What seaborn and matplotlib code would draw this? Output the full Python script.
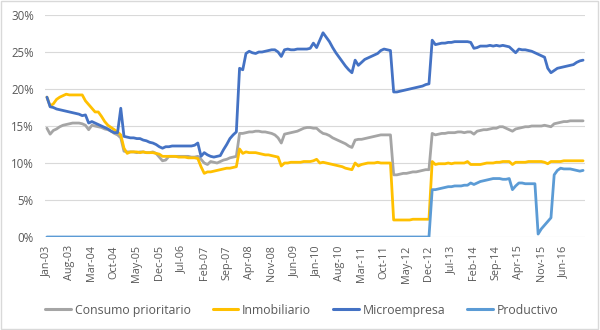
import matplotlib
matplotlib.use("Agg")
import matplotlib.pyplot as plt
import numpy as np
import pandas as pd
import seaborn as sns
from matplotlib.patches import Rectangle

# Data (monthly, Jan-03 .. Dec-16), values in %
consumo = [
    14.7, 13.9, 14.4, 14.6, 14.9, 15.1, 15.2, 15.3, 15.4, 15.4, 15.4, 15.3,
    15.1, 14.5, 15.1, 15.0, 14.9, 14.8, 14.6, 14.5, 14.3, 14.0, 13.8, 13.4,
    11.6, 11.5, 11.5, 11.5, 11.4, 11.5, 11.5, 11.4, 11.4, 11.5, 11.3, 10.8,
    10.3, 10.4, 10.9, 10.9, 10.9, 10.9, 10.9, 10.9, 10.9, 10.8, 10.8, 10.9,
    10.5, 10.0, 9.8, 10.2, 10.1, 10.0, 10.2, 10.4, 10.5, 10.7, 10.8, 10.9,
    14.0, 14.0, 14.1, 14.2, 14.2, 14.3, 14.3, 14.2, 14.2, 14.1, 14.0, 13.8,
    13.4, 12.7, 13.9, 14.0, 14.1, 14.2, 14.3, 14.5, 14.7, 14.8, 14.8, 14.7,
    14.7, 14.3, 14.0, 13.9, 13.7, 13.4, 13.2, 13.0, 12.8, 12.6, 12.3, 12.1,
    13.1, 13.2, 13.2, 13.3, 13.4, 13.5, 13.6, 13.7, 13.8, 13.8, 13.8, 13.8,
    8.4, 8.4, 8.5, 8.6, 8.6, 8.7, 8.8, 8.8, 8.9, 9.0, 9.1, 9.1,
    14.0, 13.8, 13.9, 14.0, 14.0, 14.1, 14.1, 14.1, 14.2, 14.2, 14.1, 14.2,
    14.2, 13.9, 14.3, 14.4, 14.5, 14.5, 14.6, 14.7, 14.7, 14.9, 14.9, 14.7,
    14.5, 14.3, 14.6, 14.7, 14.8, 14.9, 14.9, 15.0, 15.0, 15.0, 15.0, 15.1,
    15.0, 14.9, 15.3, 15.4, 15.5, 15.6, 15.6, 15.7, 15.7, 15.7, 15.7, 15.7,
]
inmobiliario = [
    18.9, 17.7, 18.0, 18.6, 18.9, 19.1, 19.3, 19.2, 19.2, 19.2, 19.2, 19.2,
    18.4, 17.9, 17.4, 16.9, 16.9, 16.3, 15.6, 15.1, 14.8, 14.5, 14.2, 13.8,
    12.0, 11.3, 11.5, 11.5, 11.5, 11.4, 11.5, 11.4, 11.4, 11.4, 11.3, 11.2,
    10.9, 10.9, 10.9, 10.9, 10.9, 10.8, 10.8, 10.8, 10.7, 10.7, 10.7, 10.6,
    9.5, 8.6, 8.8, 8.8, 8.9, 9.0, 9.1, 9.2, 9.3, 9.3, 9.4, 9.5,
    11.9, 11.3, 11.5, 11.4, 11.4, 11.4, 11.3, 11.2, 11.1, 11.1, 11.0, 10.9,
    10.8, 9.6, 10.0, 10.0, 10.1, 10.1, 10.1, 10.1, 10.2, 10.2, 10.2, 10.3,
    10.5, 10.0, 10.1, 10.0, 9.9, 9.8, 9.7, 9.6, 9.5, 9.3, 9.2, 9.1,
    10.0, 9.6, 9.8, 9.9, 10.0, 10.0, 10.0, 10.1, 10.0, 10.0, 10.0, 10.0,
    2.3, 2.3, 2.3, 2.3, 2.3, 2.3, 2.4, 2.4, 2.4, 2.4, 2.4, 2.4,
    10.2, 9.8, 9.9, 9.9, 9.9, 10.0, 9.9, 10.0, 10.0, 10.0, 10.0, 10.2,
    9.8, 9.8, 9.8, 9.8, 9.9, 10.0, 10.0, 10.0, 10.1, 10.1, 10.2, 10.2,
    10.2, 9.8, 10.1, 10.1, 10.1, 10.1, 10.2, 10.2, 10.2, 10.2, 10.2, 10.1,
    9.9, 10.2, 10.2, 10.2, 10.2, 10.3, 10.3, 10.3, 10.3, 10.3, 10.3, 10.3,
]
microempresa = [
    18.9, 17.6, 17.5, 17.3, 17.2, 17.1, 17.0, 16.9, 16.8, 16.7, 16.6, 16.4,
    16.5, 15.4, 15.6, 15.4, 15.2, 15.0, 14.8, 14.6, 14.3, 14.1, 14.1, 17.4,
    13.6, 13.5, 13.4, 13.4, 13.3, 13.3, 13.1, 13.0, 12.8, 12.7, 12.5, 12.2,
    12.0, 12.2, 12.2, 12.3, 12.3, 12.3, 12.3, 12.3, 12.3, 12.3, 12.4, 12.7,
    10.9, 11.4, 11.1, 10.9, 10.8, 10.9, 11.0, 11.8, 12.5, 13.3, 13.8, 14.2,
    22.8, 22.6, 24.8, 25.1, 24.9, 24.8, 25.0, 25.0, 25.1, 25.2, 25.3, 25.3,
    25.0, 24.4, 25.3, 25.4, 25.3, 25.3, 25.4, 25.4, 25.4, 25.4, 25.5, 26.2,
    25.6, 26.6, 27.6, 27.0, 26.4, 25.6, 24.9, 24.3, 23.7, 23.1, 22.6, 22.2,
    23.9, 23.2, 23.6, 24.0, 24.2, 24.4, 24.6, 24.8, 25.2, 25.4, 25.3, 25.2,
    19.6, 19.6, 19.7, 19.8, 19.9, 20.0, 20.1, 20.2, 20.3, 20.4, 20.6, 20.7,
    26.6, 26.0, 26.1, 26.2, 26.2, 26.3, 26.3, 26.4, 26.4, 26.4, 26.4, 26.4,
    26.3, 25.5, 25.6, 25.8, 25.8, 25.8, 25.9, 25.8, 25.9, 25.8, 25.9, 25.8,
    25.7, 25.3, 24.9, 25.4, 25.3, 25.3, 25.2, 25.1, 24.9, 24.7, 24.5, 24.3,
    22.8, 22.2, 22.5, 22.8, 22.9, 23.0, 23.1, 23.2, 23.3, 23.6, 23.8, 23.9,
]
productivo = [0.0] * 120 + [
    6.4, 6.4, 6.5, 6.6, 6.7, 6.8, 6.8, 6.9, 6.9, 6.9, 7.0, 7.0,
    7.3, 7.1, 7.3, 7.5, 7.6, 7.7, 7.8, 7.9, 7.9, 7.9, 7.8, 7.8,
    7.9, 6.4, 6.9, 7.3, 7.3, 7.2, 7.2, 7.2, 7.2, 0.4, 1.1, 1.6,
    2.1, 2.6, 8.4, 9.0, 9.3, 9.2, 9.2, 9.2, 9.1, 9.0, 8.9, 9.0,
]

series_names = ["Consumo prioritario", "Inmobiliario", "Microempresa", "Productivo"]
colors = ["#A5A5A5", "#FFC000", "#4472C4", "#5B9BD5"]

months = pd.date_range("2003-01-01", periods=len(consumo), freq="MS")
month_labels = [d.strftime("%b-%y") for d in months]

df = pd.DataFrame({
    "m": np.tile(np.arange(len(months)), 4),
    "value": np.concatenate([consumo, inmobiliario, microempresa, productivo]) / 100,
    "serie": np.repeat(series_names, len(months)),
})

plt.rcParams["font.family"] = ["Open Sans", "DejaVu Sans"]
txt = "#595959"

fig = plt.figure(figsize=(6, 3.3), dpi=100)
ax = fig.add_axes([0.075, 0.2818, 0.90, 0.6727])

sns.lineplot(data=df, x="m", y="value", hue="serie", hue_order=series_names,
             palette=dict(zip(series_names, colors)), linewidth=2.0, ax=ax,
             legend=True)
for ln in ax.lines:
    ln.set_solid_joinstyle("round")
    ln.set_solid_capstyle("round")

ax.set_ylim(0, 0.30)
ax.set_xlim(-0.6, len(months) - 0.4)
ax.set_yticks(np.arange(0, 0.31, 0.05))
ax.set_yticklabels([f"{int(round(v * 100))}%" for v in np.arange(0, 0.31, 0.05)])
ticks = list(range(0, len(months), 7))
ax.set_xticks(ticks)
ax.set_xticklabels([month_labels[i] for i in ticks], rotation=90)
ax.tick_params(axis="both", length=0, colors=txt)
ax.tick_params(axis="y", labelsize=8.3, pad=8)
ax.tick_params(axis="x", labelsize=7.8, pad=6)
ax.set_xlabel("")
ax.set_ylabel("")
ax.grid(axis="y", color="#D9D9D9", linewidth=0.8)
ax.set_axisbelow(True)
for s in ax.spines.values():
    s.set_visible(False)

handles, labels = ax.get_legend_handles_labels()
ax.get_legend().remove()
for h in handles:
    h.set_linewidth(2.2)
fig.legend(handles, labels, loc="center", bbox_to_anchor=(0.503, 0.06),
           ncol=4, frameon=False, fontsize=8.8, handlelength=2.1,
           handletextpad=0.3, columnspacing=1.8, labelcolor=txt)

fig.patches.append(Rectangle((0.002, 0.003), 0.995, 0.993, transform=fig.transFigure,
                             fill=False, edgecolor="#D9D9D9", linewidth=1))

fig.savefig("out.png", dpi=100)
